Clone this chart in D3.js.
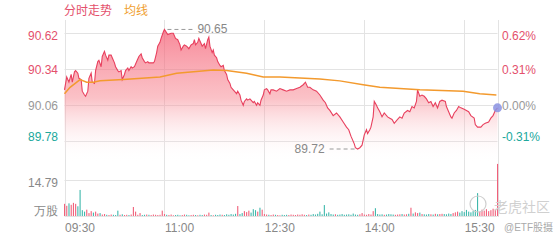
<!DOCTYPE html>
<html>
<head>
<meta charset="utf-8">
<script src="https://cdn.jsdelivr.net/npm/d3@7"></script>
<style>
    body { margin: 0; background: #fff; }
    svg { display: block; font-family: "Liberation Sans", Arial, "Noto Sans CJK SC", sans-serif; }
</style>
</head>
<body>
<script>
//previous close, used for the percent axis
var basePrice = 90.06;

//minutes after 09:30 and price
var priceMinutes = [0,2,4,6,7,9,10,12,13,15,16,18,19,21,22,24,25,27,28,30,31,33,34,36,37,39,40,42,43,45,46,48,49,51,52,54,55,57,58,60,61,63,65,67,69,70,72,73,75,76,78,80,81,83,84,86,87,89,90,
    93,96,98,100,102,104,105,107,108,110,112,114,116,117,118,120,121,123,124,126,127,129,130,131,133,134,135,137,138,140,141,143,144,146,147,149,150,152,153,155,156,158,159,161,162,164,165,167,168,170,171,173,174,176,177,179,
    180,182,183,185,186,188,191,194,197,200,203,206,209,212,215,217,219,221,224,227,230,233,235,237,239,242,245,248,251,254,256,258,261,262,264,266,268,
    270,272,273,275,276,278,279,281,282,284,286,288,291,293,295,297,300,302,304,306,309,311,313,315,317,318,320,322,324,326,328,330,332,334,336,338,340,343,344,346,348,349,351,353,355,357,
    360,362,364,366,369,370,372,375,377,379,382,384,386,388,390];
var prices = [90.18,90.28,90.24,90.30,90.24,90.32,90.33,90.31,90.27,90.26,90.17,90.14,90.13,90.17,90.27,90.31,90.24,90.23,90.33,90.40,90.41,90.36,90.44,90.48,90.45,90.41,90.45,90.45,90.43,90.39,90.36,90.33,90.32,90.33,90.26,90.30,90.33,90.35,90.33,90.36,90.35,90.36,90.40,90.44,90.46,90.43,90.40,90.39,90.40,90.39,90.39,90.39,90.40,90.47,90.52,90.55,90.58,90.63,90.65,
    90.61,90.62,90.62,90.58,90.57,90.53,90.49,90.52,90.53,90.52,90.50,90.53,90.54,90.57,90.53,90.55,90.58,90.54,90.52,90.54,90.50,90.57,90.59,90.52,90.47,90.49,90.45,90.43,90.40,90.37,90.36,90.37,90.33,90.30,90.26,90.23,90.20,90.18,90.17,90.15,90.17,90.14,90.10,90.06,90.09,90.11,90.10,90.11,90.10,90.08,90.09,90.06,90.08,90.06,90.10,90.14,
    90.18,90.19,90.18,90.15,90.18,90.18,90.17,90.19,90.18,90.17,90.18,90.18,90.19,90.20,90.22,90.24,90.20,90.20,90.18,90.17,90.14,90.10,90.08,90.04,90.02,89.98,90.00,89.97,89.93,89.89,89.87,89.82,89.76,89.73,89.72,89.73,89.75,
    89.83,89.87,89.84,89.87,89.89,89.97,90.09,90.06,90.04,90.01,89.97,90.00,89.97,89.96,89.95,89.92,89.95,89.97,89.96,90.00,90.02,90.01,90.05,90.04,90.09,90.18,90.13,90.14,90.13,90.11,90.08,90.09,90.05,90.08,90.04,90.09,90.10,90.09,90.05,90.01,89.97,89.96,90.00,90.02,90.05,90.04,
    90.03,90.02,90.01,89.98,89.96,89.91,89.89,89.89,89.91,89.92,89.93,89.96,89.98,90.02,90.04];

//average price line
var avgMinutes = [0,5,14,20,26,32,53,86,101,134,146,164,179,194,230,248,269,284,320,359,374,389];
var avgPrices = [90.15,90.20,90.26,90.24,90.24,90.25,90.26,90.28,90.31,90.335,90.33,90.31,90.28,90.28,90.265,90.25,90.22,90.20,90.18,90.17,90.15,90.14];

//volume (10k shares) every 2 minutes
var volumes = [5.0,4.2,5.2,4.6,5.4,5.0,4.0,10.7,2.4,1.8,
    2.6,1.2,2.0,1.4,1.8,1.0,1.2,0.6,0.8,0.5,
    0.4,0.6,0.5,0.4,2.2,0.5,0.7,0.4,0.5,0.4,
    0.6,3.7,1.8,0.5,1.2,0.4,0.5,0.6,0.5,0.4,
    0.6,0.5,0.4,0.5,2.2,0.8,0.5,0.4,0.6,0.3,
    0.4,0.5,0.3,0.4,0.6,0.5,0.3,0.4,0.5,0.4,
    0.3,0.5,0.4,0.6,0.5,1.4,0.4,0.3,0.5,0.4,
    0.6,0.5,0.4,0.7,0.5,0.8,0.6,0.9,4.1,0.8,
    1.2,2.0,1.6,2.2,1.4,2.8,2.4,1.8,3.4,2.6,
    0.8,0.6,0.5,0.4,0.6,0.5,0.4,0.3,0.5,0.4,
    0.5,0.4,0.6,0.5,0.4,0.6,0.5,0.7,0.5,0.4,
    0.6,0.5,0.8,0.6,0.9,1.8,0.7,4.5,1.0,1.5,
    0.8,0.6,0.7,0.5,0.6,0.8,0.5,0.6,0.7,0.5,
    1.0,0.6,0.5,0.7,1.2,0.6,0.5,0.8,0.6,2.0,
    3.2,0.8,0.6,0.7,0.5,0.6,0.8,0.7,0.6,0.5,
    0.6,0.7,0.8,0.6,0.7,0.9,3.4,1.0,1.5,1.2,
    1.4,0.8,0.7,0.6,0.8,0.7,0.6,0.9,0.7,0.8,
    0.9,0.8,0.7,1.0,0.8,1.2,1.5,1.8,1.4,2.0,
    1.6,2.5,1.8,1.5,2.0,2.5,9.4,1.8,2.6,2.2,
    2.8,2.0,2.4,3.0,2.6,21.4];

//axis ticks
var timeTicks = [0, 90, 180, 270, 360];
var timeLabels = ['09:30', '11:00', '12:30', '14:00', '15:30'];
var priceTicks = [90.62, 90.34, 90.06, 89.78];
var volumeTicks = [14.79];

var width = 560,
    height = 240;

var svg = d3.select('body')
    .append('svg')
    .attr('width', width)
    .attr('height', height);

var x = d3.scaleLinear().domain([0, 390]).range([64.5, 497.5]);
var y = d3.scaleLinear().domain([89.78, 90.62]).range([141.3, 33.3]);
var yVol = d3.scaleLinear().domain([0, 14.79]).range([216, 180]);

var up = '#e4506c',
    down = '#20a89c',
    flat = '#999';

function labelColor(p){
    if (p > basePrice) return up;
    if (p < basePrice) return down;
    return flat;
}

//gradient under the price line
var defs = svg.append('defs');
var grad = defs.append('linearGradient')
    .attr('id', 'fill')
    .attr('gradientUnits', 'userSpaceOnUse')
    .attr('x1', 0).attr('x2', 0)
    .attr('y1', 20).attr('y2', 162);
grad.append('stop').attr('offset', 0).attr('stop-color', '#f4566e').attr('stop-opacity', 0.75);
grad.append('stop').attr('offset', 0.55).attr('stop-color', '#f7848f').attr('stop-opacity', 0.5);
grad.append('stop').attr('offset', 1).attr('stop-color', '#ffffff').attr('stop-opacity', 0);

//grid
var grid = svg.append('g').attr('stroke', '#e3e3e3').attr('stroke-width', 1);
grid.selectAll('.hp')
    .data(priceTicks)
    .enter().append('line')
    .attr('x1', x(0)).attr('x2', x(390))
    .attr('y1', function(d){ return Math.round(y(d)) + 0.5; })
    .attr('y2', function(d){ return Math.round(y(d)) + 0.5; });
grid.selectAll('.hv')
    .data(volumeTicks.concat([0]))
    .enter().append('line')
    .attr('x1', x(0)).attr('x2', x(390))
    .attr('y1', function(d){ return Math.round(yVol(d)) + 0.5; })
    .attr('y2', function(d){ return Math.round(yVol(d)) + 0.5; });
grid.selectAll('.vt')
    .data(timeTicks.concat([390]))
    .enter().append('line')
    .attr('x1', function(d){ return Math.round(x(d)) + 0.5; })
    .attr('x2', function(d){ return Math.round(x(d)) + 0.5; })
    .attr('y1', 20).attr('y2', 217);

var priceData = priceMinutes.map(function(m, i){ return {m: m, p: prices[i]}; });
var avgData = avgMinutes.map(function(m, i){ return {m: m, p: avgPrices[i]}; });

//price area and line
svg.append('path')
    .datum(priceData)
    .attr('fill', 'url(#fill)')
    .attr('d', d3.area()
        .x(function(d){ return x(d.m); })
        .y0(162)
        .y1(function(d){ return y(d.p); }));

svg.append('path')
    .datum(priceData)
    .attr('fill', 'none')
    .attr('stroke', '#e8405e')
    .attr('stroke-width', 1.1)
    .attr('d', d3.line()
        .x(function(d){ return x(d.m); })
        .y(function(d){ return y(d.p); }));

svg.append('path')
    .datum(avgData)
    .attr('fill', 'none')
    .attr('stroke', '#f39a2e')
    .attr('stroke-width', 1.5)
    .attr('d', d3.line()
        .x(function(d){ return x(d.m); })
        .y(function(d){ return y(d.p); }));

//volume bars, colour from the price move
var bisect = d3.bisector(function(d){ return d.m; }).left;
function moveAt(m){
    var i = Math.min(bisect(priceData, m), priceData.length - 1);
    if (i === 0) return 1;
    return priceData[i].p - priceData[i - 1].p;
}
svg.append('g')
    .selectAll('rect')
    .data(volumes)
    .enter().append('rect')
    .attr('x', function(d, i){ return x(i * 2) - 0.5; })
    .attr('width', 1.1)
    .attr('y', function(d){ return yVol(d); })
    .attr('height', function(d){ return yVol(0) - yVol(d); })
    .attr('fill', function(d, i){ return moveAt(i * 2) >= 0 ? '#f0607a' : '#3fb8ac'; });

//high and low markers
var hi = d3.greatest(priceData, function(d){ return d.p; }),
    lo = d3.least(priceData, function(d){ return d.p; });
var marks = svg.append('g').attr('font-size', 12).attr('fill', '#888');
marks.append('line')
    .attr('x1', x(hi.m) + 3).attr('x2', x(hi.m) + 28)
    .attr('y1', y(hi.p)).attr('y2', y(hi.p))
    .attr('stroke', '#999').attr('stroke-dasharray', '4,3');
marks.append('text')
    .attr('x', x(hi.m) + 33).attr('y', y(hi.p) + 4)
    .text(hi.p.toFixed(2));
marks.append('line')
    .attr('x1', x(lo.m) - 28).attr('x2', x(lo.m) - 3)
    .attr('y1', y(lo.p)).attr('y2', y(lo.p))
    .attr('stroke', '#999').attr('stroke-dasharray', '4,3');
marks.append('text')
    .attr('x', x(lo.m) - 33).attr('y', y(lo.p) + 4)
    .attr('text-anchor', 'end')
    .text(lo.p.toFixed(2));

//end point
var last = priceData[priceData.length - 1];
svg.append('circle')
    .attr('cx', x(last.m)).attr('cy', y(last.p))
    .attr('r', 4.5)
    .attr('fill', '#8a92e2')
    .attr('opacity', 0.85);

//left price axis
var leftAxis = svg.append('g')
    .attr('transform', 'translate(58,0)')
    .call(d3.axisLeft(y).tickValues(priceTicks).tickSize(0).tickPadding(0)
        .tickFormat(function(d){ return d.toFixed(2); }));
leftAxis.select('.domain').remove();
leftAxis.selectAll('text')
    .attr('font-size', 12).attr('font-family', null)
    .attr('fill', function(d){ return labelColor(d); })
    .attr('dy', function(d, i){ return i === 0 ? '0.55em' : (i === priceTicks.length - 1 ? '-0.1em' : '0.32em'); });

//right percent axis
var rightAxis = svg.append('g')
    .attr('transform', 'translate(502,0)')
    .call(d3.axisRight(y).tickValues(priceTicks).tickSize(0).tickPadding(0)
        .tickFormat(function(d){ return ((d - basePrice) / basePrice * 100).toFixed(2) + '%'; }));
rightAxis.select('.domain').remove();
rightAxis.selectAll('text')
    .attr('font-size', 12).attr('font-family', null)
    .attr('fill', function(d){ return labelColor(d); })
    .attr('dy', function(d, i){ return i === 0 ? '0.55em' : (i === priceTicks.length - 1 ? '-0.1em' : '0.32em'); });

//volume axis
var volAxis = svg.append('g')
    .attr('transform', 'translate(58,0)')
    .call(d3.axisLeft(yVol).tickValues(volumeTicks.concat([0])).tickSize(0).tickPadding(0)
        .tickFormat(function(d){ return d === 0 ? '万股' : d.toFixed(2); }));
volAxis.select('.domain').remove();
volAxis.selectAll('text')
    .attr('font-size', 12).attr('font-family', null)
    .attr('fill', '#888')
    .attr('dy', function(d){ return d === 0 ? '-0.1em' : '0.55em'; });

//time axis
var timeAxis = svg.append('g')
    .attr('transform', 'translate(0,221)')
    .call(d3.axisBottom(x).tickValues(timeTicks).tickSize(0).tickPadding(0)
        .tickFormat(function(d, i){ return timeLabels[i]; }));
timeAxis.select('.domain').remove();
timeAxis.selectAll('text')
    .attr('font-size', 12).attr('font-family', null)
    .attr('fill', '#888')
    .attr('text-anchor', 'start')
    .attr('dy', '0.9em');

//legend
svg.append('text').attr('x', 64).attr('y', 15).attr('font-size', 12)
    .attr('fill', '#e4506c').text('分时走势');
svg.append('text').attr('x', 124).attr('y', 15).attr('font-size', 12)
    .attr('fill', '#f0a030').text('均线');

//watermark
svg.append('circle').attr('cx', 478).attr('cy', 204).attr('r', 8)
    .attr('fill', 'none').attr('stroke', '#cfcfcf').attr('stroke-width', 1.2);
svg.append('text').attr('x', 494).attr('y', 212).attr('font-size', 14)
    .attr('fill', '#d0d0d0').text('老虎社区');
svg.append('text').attr('x', 504).attr('y', 231).attr('font-size', 10)
    .attr('fill', '#aaa').text('@ETF股摄');
</script>
</body>
</html>
